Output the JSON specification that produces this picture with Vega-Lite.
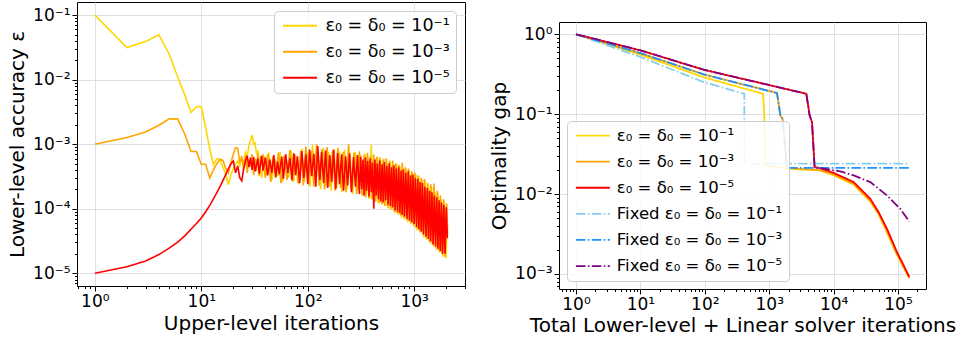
{
  "$schema": "https://vega.github.io/schema/vega-lite/v6.json",
  "background": "white",
  "padding": {"left": 7, "top": 1, "right": 0, "bottom": 0},
  "spacing": 23,
  "resolve": {"scale": {"color": "independent", "strokeDash": "independent"}, "legend": {"color": "independent", "strokeDash": "independent"}},
  "config": {
    "font": "DejaVu Sans",
    "view": {"stroke": "black", "strokeWidth": 1},
    "axis": {
      "labelFont": "DejaVu Sans", "titleFont": "DejaVu Sans",
      "labelColor": "black", "titleColor": "black", "tickColor": "black",
      "domain": false, "gridColor": "#dcdcdc", "gridWidth": 0.9,
      "labelFontSize": 17, "titleFontSize": 20, "titleFontWeight": "normal",
      "tickSize": 5, "labelFlush": false, "labelOverlap": false, "labelPadding": 2
    },
    "legend": {"labelLimit": 0}
  },
  "datasets": {
    "left": [
      {"s":"ε₀ = δ₀ = 10⁻¹","x":1,"y":0.1},{"s":"ε₀ = δ₀ = 10⁻¹","x":2,"y":0.0315},{"s":"ε₀ = δ₀ = 10⁻¹","x":3,"y":0.039},{"s":"ε₀ = δ₀ = 10⁻¹","x":4,"y":0.0495},{"s":"ε₀ = δ₀ = 10⁻¹","x":5,"y":0.0248},{"s":"ε₀ = δ₀ = 10⁻¹","x":6,"y":0.011},{"s":"ε₀ = δ₀ = 10⁻¹","x":7,"y":0.0058},{"s":"ε₀ = δ₀ = 10⁻¹","x":8,"y":0.0031},{"s":"ε₀ = δ₀ = 10⁻¹","x":9,"y":0.0038},{"s":"ε₀ = δ₀ = 10⁻¹","x":10,"y":0.0038},{"s":"ε₀ = δ₀ = 10⁻¹","x":11,"y":0.0018},{"s":"ε₀ = δ₀ = 10⁻¹","x":12,"y":0.00085},{"s":"ε₀ = δ₀ = 10⁻¹","x":13,"y":0.00048},{"s":"ε₀ = δ₀ = 10⁻¹","x":14,"y":0.00059},{"s":"ε₀ = δ₀ = 10⁻¹","x":15,"y":0.00059},{"s":"ε₀ = δ₀ = 10⁻¹","x":16,"y":0.00044},{"s":"ε₀ = δ₀ = 10⁻¹","x":17,"y":0.00034},{"s":"ε₀ = δ₀ = 10⁻¹","x":18,"y":0.000235},{"s":"ε₀ = δ₀ = 10⁻¹","x":19,"y":0.00034},{"s":"ε₀ = δ₀ = 10⁻¹","x":20,"y":0.00042},{"s":"ε₀ = δ₀ = 10⁻¹","x":21,"y":0.00049},{"s":"ε₀ = δ₀ = 10⁻¹","x":22,"y":0.00055},{"s":"ε₀ = δ₀ = 10⁻¹","x":23,"y":0.00046},{"s":"ε₀ = δ₀ = 10⁻¹","x":24,"y":0.00062},{"s":"ε₀ = δ₀ = 10⁻¹","x":25,"y":0.0005},{"s":"ε₀ = δ₀ = 10⁻¹","x":26,"y":0.00075},{"s":"ε₀ = δ₀ = 10⁻¹","x":27,"y":0.00065},{"s":"ε₀ = δ₀ = 10⁻¹","x":28,"y":0.00095},{"s":"ε₀ = δ₀ = 10⁻¹","x":29,"y":0.00115},{"s":"ε₀ = δ₀ = 10⁻¹","x":30,"y":0.00138},{"s":"ε₀ = δ₀ = 10⁻¹","x":31,"y":0.001},{"s":"ε₀ = δ₀ = 10⁻¹","x":32,"y":0.00105},{"s":"ε₀ = δ₀ = 10⁻¹","x":33,"y":0.0007},{"s":"ε₀ = δ₀ = 10⁻¹","x":34,"y":0.0008},{"s":"ε₀ = δ₀ = 10⁻¹","x":35,"y":0.00055},
      {"s":"ε₀ = δ₀ = 10⁻¹","x":37,"y":0.0003},{"s":"ε₀ = δ₀ = 10⁻¹","x":39,"y":0.00066},{"s":"ε₀ = δ₀ = 10⁻¹","x":41,"y":0.00033},{"s":"ε₀ = δ₀ = 10⁻¹","x":43,"y":0.00074},{"s":"ε₀ = δ₀ = 10⁻¹","x":46,"y":0.00028},{"s":"ε₀ = δ₀ = 10⁻¹","x":49,"y":0.0006},{"s":"ε₀ = δ₀ = 10⁻¹","x":52,"y":0.00032},{"s":"ε₀ = δ₀ = 10⁻¹","x":55,"y":0.00076},{"s":"ε₀ = δ₀ = 10⁻¹","x":58,"y":0.00026},{"s":"ε₀ = δ₀ = 10⁻¹","x":62,"y":0.00068},{"s":"ε₀ = δ₀ = 10⁻¹","x":66,"y":0.0003},{"s":"ε₀ = δ₀ = 10⁻¹","x":70,"y":0.00079},{"s":"ε₀ = δ₀ = 10⁻¹","x":74,"y":0.00027},{"s":"ε₀ = δ₀ = 10⁻¹","x":78,"y":0.00063},{"s":"ε₀ = δ₀ = 10⁻¹","x":83,"y":0.00024},{"s":"ε₀ = δ₀ = 10⁻¹","x":88,"y":0.00086},{"s":"ε₀ = δ₀ = 10⁻¹","x":93,"y":0.00026},{"s":"ε₀ = δ₀ = 10⁻¹","x":99,"y":0.00074},{"s":"ε₀ = δ₀ = 10⁻¹","x":105,"y":0.00022},{"s":"ε₀ = δ₀ = 10⁻¹","x":111,"y":0.00098},{"s":"ε₀ = δ₀ = 10⁻¹","x":118,"y":0.00024},{"s":"ε₀ = δ₀ = 10⁻¹","x":125,"y":0.0008},{"s":"ε₀ = δ₀ = 10⁻¹","x":132,"y":0.0002},{"s":"ε₀ = δ₀ = 10⁻¹","x":140,"y":0.00088},{"s":"ε₀ = δ₀ = 10⁻¹","x":148,"y":0.00023},{"s":"ε₀ = δ₀ = 10⁻¹","x":157,"y":0.00076},{"s":"ε₀ = δ₀ = 10⁻¹","x":166,"y":0.00019},{"s":"ε₀ = δ₀ = 10⁻¹","x":176,"y":0.00084},{"s":"ε₀ = δ₀ = 10⁻¹","x":187,"y":0.00021},{"s":"ε₀ = δ₀ = 10⁻¹","x":198,"y":0.00078},{"s":"ε₀ = δ₀ = 10⁻¹","x":210,"y":0.00018},{"s":"ε₀ = δ₀ = 10⁻¹","x":222,"y":0.00082},{"s":"ε₀ = δ₀ = 10⁻¹","x":235,"y":0.0002},{"s":"ε₀ = δ₀ = 10⁻¹","x":249,"y":0.00074},{"s":"ε₀ = δ₀ = 10⁻¹","x":264,"y":0.00017},{"s":"ε₀ = δ₀ = 10⁻¹","x":280,"y":0.00076},{"s":"ε₀ = δ₀ = 10⁻¹","x":297,"y":0.00019},{"s":"ε₀ = δ₀ = 10⁻¹","x":315,"y":0.00068},{"s":"ε₀ = δ₀ = 10⁻¹","x":333,"y":0.000155},{"s":"ε₀ = δ₀ = 10⁻¹","x":345,"y":0.00072},{"s":"ε₀ = δ₀ = 10⁻¹","x":357,"y":0.00017},{"s":"ε₀ = δ₀ = 10⁻¹","x":369,"y":0.00064},{"s":"ε₀ = δ₀ = 10⁻¹","x":382,"y":0.00014},{"s":"ε₀ = δ₀ = 10⁻¹","x":395,"y":0.00098},{"s":"ε₀ = δ₀ = 10⁻¹","x":409,"y":0.00015},{"s":"ε₀ = δ₀ = 10⁻¹","x":423,"y":0.0006},{"s":"ε₀ = δ₀ = 10⁻¹","x":438,"y":0.00013},{"s":"ε₀ = δ₀ = 10⁻¹","x":453,"y":0.00064},{"s":"ε₀ = δ₀ = 10⁻¹","x":469,"y":0.00012},{"s":"ε₀ = δ₀ = 10⁻¹","x":485,"y":0.00056},{"s":"ε₀ = δ₀ = 10⁻¹","x":502,"y":0.000115},{"s":"ε₀ = δ₀ = 10⁻¹","x":520,"y":0.0006},{"s":"ε₀ = δ₀ = 10⁻¹","x":538,"y":0.00011},{"s":"ε₀ = δ₀ = 10⁻¹","x":557,"y":0.00052},{"s":"ε₀ = δ₀ = 10⁻¹","x":576,"y":0.0001},{"s":"ε₀ = δ₀ = 10⁻¹","x":596,"y":0.00056},{"s":"ε₀ = δ₀ = 10⁻¹","x":617,"y":0.000095},{"s":"ε₀ = δ₀ = 10⁻¹","x":639,"y":0.00048},{"s":"ε₀ = δ₀ = 10⁻¹","x":661,"y":0.000085},{"s":"ε₀ = δ₀ = 10⁻¹","x":684,"y":0.0005},{"s":"ε₀ = δ₀ = 10⁻¹","x":708,"y":0.00008},{"s":"ε₀ = δ₀ = 10⁻¹","x":733,"y":0.00046},{"s":"ε₀ = δ₀ = 10⁻¹","x":759,"y":0.000072},{"s":"ε₀ = δ₀ = 10⁻¹","x":785,"y":0.00044},{"s":"ε₀ = δ₀ = 10⁻¹","x":813,"y":0.000068},{"s":"ε₀ = δ₀ = 10⁻¹","x":841,"y":0.00042},{"s":"ε₀ = δ₀ = 10⁻¹","x":870,"y":0.000062},{"s":"ε₀ = δ₀ = 10⁻¹","x":901,"y":0.0004},{"s":"ε₀ = δ₀ = 10⁻¹","x":932,"y":0.000058},{"s":"ε₀ = δ₀ = 10⁻¹","x":965,"y":0.00036},{"s":"ε₀ = δ₀ = 10⁻¹","x":999,"y":0.000052},{"s":"ε₀ = δ₀ = 10⁻¹","x":1034,"y":0.00034},{"s":"ε₀ = δ₀ = 10⁻¹","x":1070,"y":0.000046},{"s":"ε₀ = δ₀ = 10⁻¹","x":1107,"y":0.00032},{"s":"ε₀ = δ₀ = 10⁻¹","x":1146,"y":0.000042},{"s":"ε₀ = δ₀ = 10⁻¹","x":1186,"y":0.00028},{"s":"ε₀ = δ₀ = 10⁻¹","x":1228,"y":0.000036},{"s":"ε₀ = δ₀ = 10⁻¹","x":1271,"y":0.00027},{"s":"ε₀ = δ₀ = 10⁻¹","x":1315,"y":0.000033},{"s":"ε₀ = δ₀ = 10⁻¹","x":1361,"y":0.00023},{"s":"ε₀ = δ₀ = 10⁻¹","x":1409,"y":0.000029},{"s":"ε₀ = δ₀ = 10⁻¹","x":1458,"y":0.00022},{"s":"ε₀ = δ₀ = 10⁻¹","x":1509,"y":0.000026},{"s":"ε₀ = δ₀ = 10⁻¹","x":1562,"y":0.00018},{"s":"ε₀ = δ₀ = 10⁻¹","x":1617,"y":0.000023},{"s":"ε₀ = δ₀ = 10⁻¹","x":1673,"y":0.000178},{"s":"ε₀ = δ₀ = 10⁻¹","x":1732,"y":0.000021},{"s":"ε₀ = δ₀ = 10⁻¹","x":1792,"y":0.00014},{"s":"ε₀ = δ₀ = 10⁻¹","x":1855,"y":0.000018},{"s":"ε₀ = δ₀ = 10⁻¹","x":1920,"y":0.00013},{"s":"ε₀ = δ₀ = 10⁻¹","x":1987,"y":0.000017},{"s":"ε₀ = δ₀ = 10⁻¹","x":2050,"y":0.00006},
      {"s":"ε₀ = δ₀ = 10⁻³","x":1,"y":0.001},{"s":"ε₀ = δ₀ = 10⁻³","x":2,"y":0.00127},{"s":"ε₀ = δ₀ = 10⁻³","x":3,"y":0.00155},{"s":"ε₀ = δ₀ = 10⁻³","x":4,"y":0.00197},{"s":"ε₀ = δ₀ = 10⁻³","x":5,"y":0.00247},{"s":"ε₀ = δ₀ = 10⁻³","x":6,"y":0.00247},{"s":"ε₀ = δ₀ = 10⁻³","x":7,"y":0.00143},{"s":"ε₀ = δ₀ = 10⁻³","x":8,"y":0.00077},{"s":"ε₀ = δ₀ = 10⁻³","x":9,"y":0.00077},{"s":"ε₀ = δ₀ = 10⁻³","x":10,"y":0.00049},{"s":"ε₀ = δ₀ = 10⁻³","x":11,"y":0.00049},{"s":"ε₀ = δ₀ = 10⁻³","x":12,"y":0.0003},{"s":"ε₀ = δ₀ = 10⁻³","x":13,"y":0.0004},{"s":"ε₀ = δ₀ = 10⁻³","x":14,"y":0.0005},{"s":"ε₀ = δ₀ = 10⁻³","x":15,"y":0.00058},{"s":"ε₀ = δ₀ = 10⁻³","x":16,"y":0.00056},{"s":"ε₀ = δ₀ = 10⁻³","x":17,"y":0.00042},{"s":"ε₀ = δ₀ = 10⁻³","x":18,"y":0.00036},{"s":"ε₀ = δ₀ = 10⁻³","x":19,"y":0.00052},{"s":"ε₀ = δ₀ = 10⁻³","x":20,"y":0.0007},{"s":"ε₀ = δ₀ = 10⁻³","x":21,"y":0.00088},{"s":"ε₀ = δ₀ = 10⁻³","x":22,"y":0.00086},{"s":"ε₀ = δ₀ = 10⁻³","x":23,"y":0.00052},{"s":"ε₀ = δ₀ = 10⁻³","x":24,"y":0.00065},{"s":"ε₀ = δ₀ = 10⁻³","x":25,"y":0.0004},{"s":"ε₀ = δ₀ = 10⁻³","x":26,"y":0.00068},{"s":"ε₀ = δ₀ = 10⁻³","x":27,"y":0.00036},{"s":"ε₀ = δ₀ = 10⁻³","x":28,"y":0.00058},{"s":"ε₀ = δ₀ = 10⁻³","x":29,"y":0.00045},{"s":"ε₀ = δ₀ = 10⁻³","x":30,"y":0.0007},{"s":"ε₀ = δ₀ = 10⁻³","x":31,"y":0.00033},{"s":"ε₀ = δ₀ = 10⁻³","x":32,"y":0.0006},{"s":"ε₀ = δ₀ = 10⁻³","x":33,"y":0.00038},{"s":"ε₀ = δ₀ = 10⁻³","x":34,"y":0.00072},{"s":"ε₀ = δ₀ = 10⁻³","x":35,"y":0.00032},{"s":"ε₀ = δ₀ = 10⁻³","x":36,"y":0.00063},
      {"s":"ε₀ = δ₀ = 10⁻³","x":38,"y":0.00068},{"s":"ε₀ = δ₀ = 10⁻³","x":40,"y":0.0003},{"s":"ε₀ = δ₀ = 10⁻³","x":42,"y":0.0007},{"s":"ε₀ = δ₀ = 10⁻³","x":45,"y":0.00026},{"s":"ε₀ = δ₀ = 10⁻³","x":47,"y":0.00064},{"s":"ε₀ = δ₀ = 10⁻³","x":50,"y":0.0003},{"s":"ε₀ = δ₀ = 10⁻³","x":53,"y":0.00074},{"s":"ε₀ = δ₀ = 10⁻³","x":56,"y":0.00025},{"s":"ε₀ = δ₀ = 10⁻³","x":60,"y":0.00066},{"s":"ε₀ = δ₀ = 10⁻³","x":64,"y":0.00028},{"s":"ε₀ = δ₀ = 10⁻³","x":68,"y":0.00082},{"s":"ε₀ = δ₀ = 10⁻³","x":72,"y":0.00026},{"s":"ε₀ = δ₀ = 10⁻³","x":76,"y":0.0007},{"s":"ε₀ = δ₀ = 10⁻³","x":81,"y":0.00025},{"s":"ε₀ = δ₀ = 10⁻³","x":86,"y":0.0008},{"s":"ε₀ = δ₀ = 10⁻³","x":91,"y":0.00023},{"s":"ε₀ = δ₀ = 10⁻³","x":96,"y":0.00092},{"s":"ε₀ = δ₀ = 10⁻³","x":102,"y":0.00024},{"s":"ε₀ = δ₀ = 10⁻³","x":108,"y":0.00078},{"s":"ε₀ = δ₀ = 10⁻³","x":114,"y":0.00022},{"s":"ε₀ = δ₀ = 10⁻³","x":121,"y":0.001},{"s":"ε₀ = δ₀ = 10⁻³","x":128,"y":0.00023},{"s":"ε₀ = δ₀ = 10⁻³","x":136,"y":0.00084},{"s":"ε₀ = δ₀ = 10⁻³","x":144,"y":0.0002},{"s":"ε₀ = δ₀ = 10⁻³","x":152,"y":0.0009},{"s":"ε₀ = δ₀ = 10⁻³","x":161,"y":0.00022},{"s":"ε₀ = δ₀ = 10⁻³","x":171,"y":0.0008},{"s":"ε₀ = δ₀ = 10⁻³","x":181,"y":0.00019},{"s":"ε₀ = δ₀ = 10⁻³","x":192,"y":0.00088},{"s":"ε₀ = δ₀ = 10⁻³","x":204,"y":0.00021},{"s":"ε₀ = δ₀ = 10⁻³","x":216,"y":0.00076},{"s":"ε₀ = δ₀ = 10⁻³","x":228,"y":0.00018},{"s":"ε₀ = δ₀ = 10⁻³","x":242,"y":0.001},{"s":"ε₀ = δ₀ = 10⁻³","x":256,"y":0.00019},{"s":"ε₀ = δ₀ = 10⁻³","x":272,"y":0.00074},{"s":"ε₀ = δ₀ = 10⁻³","x":288,"y":0.00017},{"s":"ε₀ = δ₀ = 10⁻³","x":306,"y":0.00078},{"s":"ε₀ = δ₀ = 10⁻³","x":324,"y":0.00016},{"s":"ε₀ = δ₀ = 10⁻³","x":339,"y":0.00068},{"s":"ε₀ = δ₀ = 10⁻³","x":351,"y":0.00015},{"s":"ε₀ = δ₀ = 10⁻³","x":363,"y":0.00074},{"s":"ε₀ = δ₀ = 10⁻³","x":375,"y":0.000145},{"s":"ε₀ = δ₀ = 10⁻³","x":388,"y":0.00066},{"s":"ε₀ = δ₀ = 10⁻³","x":402,"y":0.00014},{"s":"ε₀ = δ₀ = 10⁻³","x":416,"y":0.0007},{"s":"ε₀ = δ₀ = 10⁻³","x":430,"y":0.00013},{"s":"ε₀ = δ₀ = 10⁻³","x":445,"y":0.00064},{"s":"ε₀ = δ₀ = 10⁻³","x":461,"y":0.000125},{"s":"ε₀ = δ₀ = 10⁻³","x":477,"y":0.00062},{"s":"ε₀ = δ₀ = 10⁻³","x":493,"y":0.00012},{"s":"ε₀ = δ₀ = 10⁻³","x":511,"y":0.00058},{"s":"ε₀ = δ₀ = 10⁻³","x":529,"y":0.00011},{"s":"ε₀ = δ₀ = 10⁻³","x":547,"y":0.0006},{"s":"ε₀ = δ₀ = 10⁻³","x":566,"y":0.000105},{"s":"ε₀ = δ₀ = 10⁻³","x":586,"y":0.00054},{"s":"ε₀ = δ₀ = 10⁻³","x":606,"y":0.0001},{"s":"ε₀ = δ₀ = 10⁻³","x":628,"y":0.00056},{"s":"ε₀ = δ₀ = 10⁻³","x":650,"y":0.00009},{"s":"ε₀ = δ₀ = 10⁻³","x":672,"y":0.0005},{"s":"ε₀ = δ₀ = 10⁻³","x":696,"y":0.000085},{"s":"ε₀ = δ₀ = 10⁻³","x":720,"y":0.00048},{"s":"ε₀ = δ₀ = 10⁻³","x":746,"y":0.000078},{"s":"ε₀ = δ₀ = 10⁻³","x":772,"y":0.00052},{"s":"ε₀ = δ₀ = 10⁻³","x":799,"y":0.000072},{"s":"ε₀ = δ₀ = 10⁻³","x":827,"y":0.00044},{"s":"ε₀ = δ₀ = 10⁻³","x":855,"y":0.000066},{"s":"ε₀ = δ₀ = 10⁻³","x":885,"y":0.00042},{"s":"ε₀ = δ₀ = 10⁻³","x":916,"y":0.000062},{"s":"ε₀ = δ₀ = 10⁻³","x":948,"y":0.00038},{"s":"ε₀ = δ₀ = 10⁻³","x":982,"y":0.000056},{"s":"ε₀ = δ₀ = 10⁻³","x":1016,"y":0.00036},{"s":"ε₀ = δ₀ = 10⁻³","x":1052,"y":0.00005},{"s":"ε₀ = δ₀ = 10⁻³","x":1088,"y":0.00033},{"s":"ε₀ = δ₀ = 10⁻³","x":1126,"y":0.000045},{"s":"ε₀ = δ₀ = 10⁻³","x":1166,"y":0.0003},{"s":"ε₀ = δ₀ = 10⁻³","x":1207,"y":0.00004},{"s":"ε₀ = δ₀ = 10⁻³","x":1249,"y":0.00029},{"s":"ε₀ = δ₀ = 10⁻³","x":1293,"y":0.000035},{"s":"ε₀ = δ₀ = 10⁻³","x":1338,"y":0.00025},{"s":"ε₀ = δ₀ = 10⁻³","x":1385,"y":0.000031},{"s":"ε₀ = δ₀ = 10⁻³","x":1433,"y":0.00024},{"s":"ε₀ = δ₀ = 10⁻³","x":1483,"y":0.000028},{"s":"ε₀ = δ₀ = 10⁻³","x":1535,"y":0.000246},{"s":"ε₀ = δ₀ = 10⁻³","x":1589,"y":0.000025},{"s":"ε₀ = δ₀ = 10⁻³","x":1645,"y":0.00019},{"s":"ε₀ = δ₀ = 10⁻³","x":1702,"y":0.000023},{"s":"ε₀ = δ₀ = 10⁻³","x":1762,"y":0.00016},{"s":"ε₀ = δ₀ = 10⁻³","x":1823,"y":0.00002},{"s":"ε₀ = δ₀ = 10⁻³","x":1887,"y":0.00014},{"s":"ε₀ = δ₀ = 10⁻³","x":1953,"y":0.000018},{"s":"ε₀ = δ₀ = 10⁻³","x":2020,"y":0.00012},{"s":"ε₀ = δ₀ = 10⁻³","x":2060,"y":0.00004},
      {"s":"ε₀ = δ₀ = 10⁻⁵","x":1,"y":0.00001},{"s":"ε₀ = δ₀ = 10⁻⁵","x":2,"y":0.0000126},{"s":"ε₀ = δ₀ = 10⁻⁵","x":3,"y":0.0000155},{"s":"ε₀ = δ₀ = 10⁻⁵","x":4,"y":0.0000195},{"s":"ε₀ = δ₀ = 10⁻⁵","x":5,"y":0.0000245},{"s":"ε₀ = δ₀ = 10⁻⁵","x":6,"y":0.0000305},{"s":"ε₀ = δ₀ = 10⁻⁵","x":7,"y":0.000038},{"s":"ε₀ = δ₀ = 10⁻⁵","x":8,"y":0.000048},{"s":"ε₀ = δ₀ = 10⁻⁵","x":9,"y":0.000059},{"s":"ε₀ = δ₀ = 10⁻⁵","x":10,"y":0.000072},{"s":"ε₀ = δ₀ = 10⁻⁵","x":11,"y":0.00009},{"s":"ε₀ = δ₀ = 10⁻⁵","x":12,"y":0.000113},{"s":"ε₀ = δ₀ = 10⁻⁵","x":13,"y":0.000142},{"s":"ε₀ = δ₀ = 10⁻⁵","x":14,"y":0.000178},{"s":"ε₀ = δ₀ = 10⁻⁵","x":15,"y":0.00022},{"s":"ε₀ = δ₀ = 10⁻⁵","x":16,"y":0.000275},{"s":"ε₀ = δ₀ = 10⁻⁵","x":17,"y":0.00034},{"s":"ε₀ = δ₀ = 10⁻⁵","x":18,"y":0.00042},{"s":"ε₀ = δ₀ = 10⁻⁵","x":19,"y":0.0005},
      {"s":"ε₀ = δ₀ = 10⁻⁵","x":20,"y":0.00055},{"s":"ε₀ = δ₀ = 10⁻⁵","x":21,"y":0.00036},{"s":"ε₀ = δ₀ = 10⁻⁵","x":22,"y":0.00046},{"s":"ε₀ = δ₀ = 10⁻⁵","x":23,"y":0.0003},{"s":"ε₀ = δ₀ = 10⁻⁵","x":24,"y":0.00027},{"s":"ε₀ = δ₀ = 10⁻⁵","x":25,"y":0.00042},{"s":"ε₀ = δ₀ = 10⁻⁵","x":26,"y":0.00055},{"s":"ε₀ = δ₀ = 10⁻⁵","x":27,"y":0.00066},{"s":"ε₀ = δ₀ = 10⁻⁵","x":28,"y":0.00044},{"s":"ε₀ = δ₀ = 10⁻⁵","x":29,"y":0.00062},{"s":"ε₀ = δ₀ = 10⁻⁵","x":30,"y":0.0004},{"s":"ε₀ = δ₀ = 10⁻⁵","x":31,"y":0.00064},{"s":"ε₀ = δ₀ = 10⁻⁵","x":32,"y":0.00038},{"s":"ε₀ = δ₀ = 10⁻⁵","x":34,"y":0.0006},{"s":"ε₀ = δ₀ = 10⁻⁵","x":35,"y":0.00035},{"s":"ε₀ = δ₀ = 10⁻⁵","x":37,"y":0.00066},{"s":"ε₀ = δ₀ = 10⁻⁵","x":38,"y":0.00039},{"s":"ε₀ = δ₀ = 10⁻⁵","x":40,"y":0.00062},{"s":"ε₀ = δ₀ = 10⁻⁵","x":42,"y":0.00033},{"s":"ε₀ = δ₀ = 10⁻⁵","x":44,"y":0.00058},{"s":"ε₀ = δ₀ = 10⁻⁵","x":46,"y":0.00036},{"s":"ε₀ = δ₀ = 10⁻⁵","x":48,"y":0.00068},{"s":"ε₀ = δ₀ = 10⁻⁵","x":50,"y":0.00031},{"s":"ε₀ = δ₀ = 10⁻⁵","x":52,"y":0.00054},{"s":"ε₀ = δ₀ = 10⁻⁵","x":54,"y":0.00034},{"s":"ε₀ = δ₀ = 10⁻⁵","x":57,"y":0.00064},{"s":"ε₀ = δ₀ = 10⁻⁵","x":59,"y":0.00029},{"s":"ε₀ = δ₀ = 10⁻⁵","x":62,"y":0.0007},{"s":"ε₀ = δ₀ = 10⁻⁵","x":65,"y":0.00036},{"s":"ε₀ = δ₀ = 10⁻⁵","x":68,"y":0.00061},{"s":"ε₀ = δ₀ = 10⁻⁵","x":71,"y":0.00028},{"s":"ε₀ = δ₀ = 10⁻⁵","x":74,"y":0.00072},{"s":"ε₀ = δ₀ = 10⁻⁵","x":77,"y":0.00033},{"s":"ε₀ = δ₀ = 10⁻⁵","x":80,"y":0.00065},{"s":"ε₀ = δ₀ = 10⁻⁵","x":84,"y":0.00025},{"s":"ε₀ = δ₀ = 10⁻⁵","x":88,"y":0.00078},{"s":"ε₀ = δ₀ = 10⁻⁵","x":92,"y":0.0003},{"s":"ε₀ = δ₀ = 10⁻⁵","x":96,"y":0.00069},{"s":"ε₀ = δ₀ = 10⁻⁵","x":100,"y":0.00024},{"s":"ε₀ = δ₀ = 10⁻⁵","x":104,"y":0.00083},{"s":"ε₀ = δ₀ = 10⁻⁵","x":109,"y":0.00032},{"s":"ε₀ = δ₀ = 10⁻⁵","x":114,"y":0.00071},{"s":"ε₀ = δ₀ = 10⁻⁵","x":119,"y":0.00022},{"s":"ε₀ = δ₀ = 10⁻⁵","x":124,"y":0.00094},{"s":"ε₀ = δ₀ = 10⁻⁵","x":130,"y":0.00028},{"s":"ε₀ = δ₀ = 10⁻⁵","x":135,"y":0.00076},{"s":"ε₀ = δ₀ = 10⁻⁵","x":141,"y":0.00025},{"s":"ε₀ = δ₀ = 10⁻⁵","x":147,"y":0.0008},{"s":"ε₀ = δ₀ = 10⁻⁵","x":154,"y":0.00021},{"s":"ε₀ = δ₀ = 10⁻⁵","x":161,"y":0.00068},{"s":"ε₀ = δ₀ = 10⁻⁵","x":168,"y":0.00026},{"s":"ε₀ = δ₀ = 10⁻⁵","x":175,"y":0.00082},{"s":"ε₀ = δ₀ = 10⁻⁵","x":183,"y":0.0002},{"s":"ε₀ = δ₀ = 10⁻⁵","x":191,"y":0.00073},{"s":"ε₀ = δ₀ = 10⁻⁵","x":199,"y":0.00024},{"s":"ε₀ = δ₀ = 10⁻⁵","x":208,"y":0.0007},{"s":"ε₀ = δ₀ = 10⁻⁵","x":217,"y":0.00019},{"s":"ε₀ = δ₀ = 10⁻⁵","x":227,"y":0.00065},{"s":"ε₀ = δ₀ = 10⁻⁵","x":237,"y":0.00023},{"s":"ε₀ = δ₀ = 10⁻⁵","x":247,"y":0.00072},{"s":"ε₀ = δ₀ = 10⁻⁵","x":258,"y":0.00018},{"s":"ε₀ = δ₀ = 10⁻⁵","x":269,"y":0.00063},{"s":"ε₀ = δ₀ = 10⁻⁵","x":281,"y":0.00022},{"s":"ε₀ = δ₀ = 10⁻⁵","x":293,"y":0.00068},{"s":"ε₀ = δ₀ = 10⁻⁵","x":306,"y":0.00017},
      {"s":"ε₀ = δ₀ = 10⁻⁵","x":314,"y":0.00064},{"s":"ε₀ = δ₀ = 10⁻⁵","x":322,"y":0.0002},{"s":"ε₀ = δ₀ = 10⁻⁵","x":330,"y":0.00058},{"s":"ε₀ = δ₀ = 10⁻⁵","x":339,"y":0.00016},{"s":"ε₀ = δ₀ = 10⁻⁵","x":348,"y":0.00062},{"s":"ε₀ = δ₀ = 10⁻⁵","x":357,"y":0.00019},{"s":"ε₀ = δ₀ = 10⁻⁵","x":366,"y":0.00055},{"s":"ε₀ = δ₀ = 10⁻⁵","x":376,"y":0.000155},{"s":"ε₀ = δ₀ = 10⁻⁵","x":386,"y":0.0006},{"s":"ε₀ = δ₀ = 10⁻⁵","x":396,"y":0.00018},{"s":"ε₀ = δ₀ = 10⁻⁵","x":406,"y":0.00052},{"s":"ε₀ = δ₀ = 10⁻⁵","x":417,"y":0.0001},{"s":"ε₀ = δ₀ = 10⁻⁵","x":428,"y":0.00058},{"s":"ε₀ = δ₀ = 10⁻⁵","x":439,"y":0.00016},{"s":"ε₀ = δ₀ = 10⁻⁵","x":450,"y":0.0005},{"s":"ε₀ = δ₀ = 10⁻⁵","x":462,"y":0.00014},{"s":"ε₀ = δ₀ = 10⁻⁵","x":474,"y":0.00056},{"s":"ε₀ = δ₀ = 10⁻⁵","x":486,"y":0.00013},{"s":"ε₀ = δ₀ = 10⁻⁵","x":499,"y":0.00049},{"s":"ε₀ = δ₀ = 10⁻⁵","x":512,"y":0.000125},{"s":"ε₀ = δ₀ = 10⁻⁵","x":525,"y":0.00053},{"s":"ε₀ = δ₀ = 10⁻⁵","x":539,"y":0.000135},{"s":"ε₀ = δ₀ = 10⁻⁵","x":553,"y":0.00046},{"s":"ε₀ = δ₀ = 10⁻⁵","x":567,"y":0.000115},{"s":"ε₀ = δ₀ = 10⁻⁵","x":582,"y":0.0005},{"s":"ε₀ = δ₀ = 10⁻⁵","x":597,"y":0.00011},{"s":"ε₀ = δ₀ = 10⁻⁵","x":613,"y":0.00044},{"s":"ε₀ = δ₀ = 10⁻⁵","x":629,"y":0.000105},{"s":"ε₀ = δ₀ = 10⁻⁵","x":645,"y":0.00047},{"s":"ε₀ = δ₀ = 10⁻⁵","x":662,"y":0.000095},{"s":"ε₀ = δ₀ = 10⁻⁵","x":679,"y":0.00042},{"s":"ε₀ = δ₀ = 10⁻⁵","x":697,"y":0.00009},{"s":"ε₀ = δ₀ = 10⁻⁵","x":715,"y":0.00044},{"s":"ε₀ = δ₀ = 10⁻⁵","x":734,"y":0.000085},{"s":"ε₀ = δ₀ = 10⁻⁵","x":753,"y":0.00039},{"s":"ε₀ = δ₀ = 10⁻⁵","x":772,"y":0.00008},{"s":"ε₀ = δ₀ = 10⁻⁵","x":792,"y":0.00041},{"s":"ε₀ = δ₀ = 10⁻⁵","x":813,"y":0.000076},{"s":"ε₀ = δ₀ = 10⁻⁵","x":834,"y":0.00036},{"s":"ε₀ = δ₀ = 10⁻⁵","x":856,"y":0.00007},{"s":"ε₀ = δ₀ = 10⁻⁵","x":878,"y":0.00038},{"s":"ε₀ = δ₀ = 10⁻⁵","x":901,"y":0.000066},{"s":"ε₀ = δ₀ = 10⁻⁵","x":925,"y":0.00033},{"s":"ε₀ = δ₀ = 10⁻⁵","x":949,"y":0.000062},{"s":"ε₀ = δ₀ = 10⁻⁵","x":973,"y":0.00034},{"s":"ε₀ = δ₀ = 10⁻⁵","x":999,"y":0.000058},{"s":"ε₀ = δ₀ = 10⁻⁵","x":1025,"y":0.0003},{"s":"ε₀ = δ₀ = 10⁻⁵","x":1051,"y":0.000052},{"s":"ε₀ = δ₀ = 10⁻⁵","x":1079,"y":0.00029},{"s":"ε₀ = δ₀ = 10⁻⁵","x":1107,"y":0.000048},{"s":"ε₀ = δ₀ = 10⁻⁵","x":1135,"y":0.00026},{"s":"ε₀ = δ₀ = 10⁻⁵","x":1165,"y":0.000044},{"s":"ε₀ = δ₀ = 10⁻⁵","x":1195,"y":0.00025},{"s":"ε₀ = δ₀ = 10⁻⁵","x":1226,"y":0.00004},{"s":"ε₀ = δ₀ = 10⁻⁵","x":1258,"y":0.00022},{"s":"ε₀ = δ₀ = 10⁻⁵","x":1291,"y":0.000037},{"s":"ε₀ = δ₀ = 10⁻⁵","x":1325,"y":0.00021},{"s":"ε₀ = δ₀ = 10⁻⁵","x":1359,"y":0.000034},{"s":"ε₀ = δ₀ = 10⁻⁵","x":1395,"y":0.00019},{"s":"ε₀ = δ₀ = 10⁻⁵","x":1431,"y":0.000031},{"s":"ε₀ = δ₀ = 10⁻⁵","x":1468,"y":0.00018},{"s":"ε₀ = δ₀ = 10⁻⁵","x":1506,"y":0.000028},{"s":"ε₀ = δ₀ = 10⁻⁵","x":1546,"y":0.00016},{"s":"ε₀ = δ₀ = 10⁻⁵","x":1586,"y":0.000026},{"s":"ε₀ = δ₀ = 10⁻⁵","x":1627,"y":0.00015},{"s":"ε₀ = δ₀ = 10⁻⁵","x":1670,"y":0.000024},{"s":"ε₀ = δ₀ = 10⁻⁵","x":1713,"y":0.000135},{"s":"ε₀ = δ₀ = 10⁻⁵","x":1758,"y":0.000022},{"s":"ε₀ = δ₀ = 10⁻⁵","x":1804,"y":0.000125},{"s":"ε₀ = δ₀ = 10⁻⁵","x":1850,"y":0.00002},{"s":"ε₀ = δ₀ = 10⁻⁵","x":1899,"y":0.000115},{"s":"ε₀ = δ₀ = 10⁻⁵","x":1948,"y":0.00002},{"s":"ε₀ = δ₀ = 10⁻⁵","x":1999,"y":0.000105},{"s":"ε₀ = δ₀ = 10⁻⁵","x":2050,"y":0.000035}
    ],
    "right": [
      {"s":"ε₀ = δ₀ = 10⁻¹","x":1,"y":1},{"s":"ε₀ = δ₀ = 10⁻¹","x":10,"y":0.555},{"s":"ε₀ = δ₀ = 10⁻¹","x":96,"y":0.29},{"s":"ε₀ = δ₀ = 10⁻¹","x":801,"y":0.18},{"s":"ε₀ = δ₀ = 10⁻¹","x":839,"y":0.095},{"s":"ε₀ = δ₀ = 10⁻¹","x":871,"y":0.0228},{"s":"ε₀ = δ₀ = 10⁻¹","x":2000,"y":0.0207},{"s":"ε₀ = δ₀ = 10⁻¹","x":6100,"y":0.0198},{"s":"ε₀ = δ₀ = 10⁻¹","x":10000,"y":0.0172},{"s":"ε₀ = δ₀ = 10⁻¹","x":20460,"y":0.0131},{"s":"ε₀ = δ₀ = 10⁻¹","x":37150,"y":0.008},{"s":"ε₀ = δ₀ = 10⁻¹","x":50100,"y":0.0055},{"s":"ε₀ = δ₀ = 10⁻¹","x":67450,"y":0.0033},{"s":"ε₀ = δ₀ = 10⁻¹","x":96400,"y":0.00172},{"s":"ε₀ = δ₀ = 10⁻¹","x":120000,"y":0.00122},{"s":"ε₀ = δ₀ = 10⁻¹","x":149700,"y":0.00088},
      {"s":"ε₀ = δ₀ = 10⁻³","x":1,"y":1},{"s":"ε₀ = δ₀ = 10⁻³","x":10,"y":0.58},{"s":"ε₀ = δ₀ = 10⁻³","x":96,"y":0.315},{"s":"ε₀ = δ₀ = 10⁻³","x":1320,"y":0.184},{"s":"ε₀ = δ₀ = 10⁻³","x":1490,"y":0.0966},{"s":"ε₀ = δ₀ = 10⁻³","x":1615,"y":0.0875},{"s":"ε₀ = δ₀ = 10⁻³","x":1890,"y":0.0213},{"s":"ε₀ = δ₀ = 10⁻³","x":3000,"y":0.0206},{"s":"ε₀ = δ₀ = 10⁻³","x":6100,"y":0.0199},{"s":"ε₀ = δ₀ = 10⁻³","x":10000,"y":0.0176},{"s":"ε₀ = δ₀ = 10⁻³","x":20460,"y":0.0134},{"s":"ε₀ = δ₀ = 10⁻³","x":37150,"y":0.0082},{"s":"ε₀ = δ₀ = 10⁻³","x":50100,"y":0.0057},{"s":"ε₀ = δ₀ = 10⁻³","x":67450,"y":0.0034},{"s":"ε₀ = δ₀ = 10⁻³","x":96400,"y":0.00178},{"s":"ε₀ = δ₀ = 10⁻³","x":120000,"y":0.00126},{"s":"ε₀ = δ₀ = 10⁻³","x":149700,"y":0.0009},
      {"s":"ε₀ = δ₀ = 10⁻⁵","x":1,"y":1},{"s":"ε₀ = δ₀ = 10⁻⁵","x":10,"y":0.63},{"s":"ε₀ = δ₀ = 10⁻⁵","x":96,"y":0.36},{"s":"ε₀ = δ₀ = 10⁻⁵","x":3770,"y":0.18},{"s":"ε₀ = δ₀ = 10⁻⁵","x":4240,"y":0.0966},{"s":"ε₀ = δ₀ = 10⁻⁵","x":4620,"y":0.079},{"s":"ε₀ = δ₀ = 10⁻⁵","x":5070,"y":0.0217},{"s":"ε₀ = δ₀ = 10⁻⁵","x":6100,"y":0.0211},{"s":"ε₀ = δ₀ = 10⁻⁵","x":10000,"y":0.0184},{"s":"ε₀ = δ₀ = 10⁻⁵","x":20460,"y":0.0141},{"s":"ε₀ = δ₀ = 10⁻⁵","x":37150,"y":0.0087},{"s":"ε₀ = δ₀ = 10⁻⁵","x":50100,"y":0.0059},{"s":"ε₀ = δ₀ = 10⁻⁵","x":67450,"y":0.00366},{"s":"ε₀ = δ₀ = 10⁻⁵","x":96400,"y":0.00187},{"s":"ε₀ = δ₀ = 10⁻⁵","x":120000,"y":0.00132},{"s":"ε₀ = δ₀ = 10⁻⁵","x":149700,"y":0.00091},
      {"s":"Fixed ε₀ = δ₀ = 10⁻¹","x":1,"y":1},{"s":"Fixed ε₀ = δ₀ = 10⁻¹","x":10,"y":0.52},{"s":"Fixed ε₀ = δ₀ = 10⁻¹","x":96,"y":0.252},{"s":"Fixed ε₀ = δ₀ = 10⁻¹","x":410,"y":0.18},{"s":"Fixed ε₀ = δ₀ = 10⁻¹","x":413,"y":0.024},{"s":"Fixed ε₀ = δ₀ = 10⁻¹","x":149700,"y":0.024},
      {"s":"Fixed ε₀ = δ₀ = 10⁻³","x":1,"y":1},{"s":"Fixed ε₀ = δ₀ = 10⁻³","x":10,"y":0.58},{"s":"Fixed ε₀ = δ₀ = 10⁻³","x":96,"y":0.315},{"s":"Fixed ε₀ = δ₀ = 10⁻³","x":1320,"y":0.184},{"s":"Fixed ε₀ = δ₀ = 10⁻³","x":1490,"y":0.0966},{"s":"Fixed ε₀ = δ₀ = 10⁻³","x":1615,"y":0.0875},{"s":"Fixed ε₀ = δ₀ = 10⁻³","x":1890,"y":0.0213},{"s":"Fixed ε₀ = δ₀ = 10⁻³","x":149700,"y":0.0213},
      {"s":"Fixed ε₀ = δ₀ = 10⁻⁵","x":1,"y":1},{"s":"Fixed ε₀ = δ₀ = 10⁻⁵","x":10,"y":0.63},{"s":"Fixed ε₀ = δ₀ = 10⁻⁵","x":96,"y":0.36},{"s":"Fixed ε₀ = δ₀ = 10⁻⁵","x":3770,"y":0.18},{"s":"Fixed ε₀ = δ₀ = 10⁻⁵","x":4240,"y":0.0966},{"s":"Fixed ε₀ = δ₀ = 10⁻⁵","x":4620,"y":0.079},{"s":"Fixed ε₀ = δ₀ = 10⁻⁵","x":5070,"y":0.0217},{"s":"Fixed ε₀ = δ₀ = 10⁻⁵","x":6100,"y":0.0211},{"s":"Fixed ε₀ = δ₀ = 10⁻⁵","x":12700,"y":0.0192},{"s":"Fixed ε₀ = δ₀ = 10⁻⁵","x":20460,"y":0.0171},{"s":"Fixed ε₀ = δ₀ = 10⁻⁵","x":37150,"y":0.0141},{"s":"Fixed ε₀ = δ₀ = 10⁻⁵","x":67450,"y":0.0096},{"s":"Fixed ε₀ = δ₀ = 10⁻⁵","x":108600,"y":0.0065},{"s":"Fixed ε₀ = δ₀ = 10⁻⁵","x":149700,"y":0.00453}
    ]
  },
  "hconcat": [
    {
      "width": 388, "height": 284,
      "data": {"name": "left"},
      "layer": [
        {
          "mark": {"type": "line", "strokeWidth": 1.6, "clip": true},
          "encoding": {
            "x": {"field": "x", "type": "quantitative",
              "scale": {"type": "log", "domain": [0.68, 3000], "nice": false, "zero": false},
              "axis": {"values": [1, 10, 100, 1000], "title": "Upper-level iterations", "grid": true, "titlePadding": 4,
                "labelExpr": "'10' + replace(replace(replace(replace(replace(replace(replace(replace(format(round(log(datum.value)/LN10),'d'),'−','⁻'),'-','⁻'),'0','⁰'),'1','¹'),'2','²'),'3','³'),'4','⁴'),'5','⁵')"}},
            "y": {"field": "y", "type": "quantitative",
              "scale": {"type": "log", "domain": [0.00000635, 0.16], "nice": false, "zero": false},
              "axis": {"values": [0.00001, 0.0001, 0.001, 0.01, 0.1], "title": "Lower-level accuracy ε", "grid": true, "titlePadding": 5,
                "labelExpr": "'10' + replace(replace(replace(replace(replace(replace(replace(replace(format(round(log(datum.value)/LN10),'d'),'−','⁻'),'-','⁻'),'0','⁰'),'1','¹'),'2','²'),'3','³'),'4','⁴'),'5','⁵')"}},
            "color": {"field": "s", "type": "nominal",
              "scale": {"domain": ["ε₀ = δ₀ = 10⁻¹", "ε₀ = δ₀ = 10⁻³", "ε₀ = δ₀ = 10⁻⁵"], "range": ["#FFD700", "#FFA500", "#FF0000"]},
              "legend": {"title": null, "orient": "top-right", "offset": 9, "labelFontSize": 17.5, "labelFont": "DejaVu Sans", "labelColor": "black",
                "symbolType": "M-1,0H5", "symbolSize": 128, "symbolStrokeWidth": 1.8, "labelOffset": 28, "rowPadding": 7, "padding": 6,
                "fillColor": "rgba(255,255,255,0.85)", "strokeColor": "#cccccc", "cornerRadius": 4}}
          }
        },
        {
          "mark": {"type": "point", "opacity": 0, "clip": true},
          "encoding": {
            "x": {"field": "x", "type": "quantitative",
              "scale": {"type": "log", "domain": [0.68, 3000], "nice": false, "zero": false},
              "axis": {"orient": "bottom", "values": [0.7,0.8,0.9,2,3,4,5,6,7,8,9,20,30,40,50,60,70,80,90,200,300,400,500,600,700,800,900,2000,3000], "labels": false, "grid": false, "tickSize": 2.5, "title": null}},
            "y": {"field": "y", "type": "quantitative",
              "scale": {"type": "log", "domain": [0.00000635, 0.16], "nice": false, "zero": false},
              "axis": {"orient": "left", "values": [0.000007,0.000008,0.000009,0.00002,0.00003,0.00004,0.00005,0.00006,0.00007,0.00008,0.00009,0.0002,0.0003,0.0004,0.0005,0.0006,0.0007,0.0008,0.0009,0.002,0.003,0.004,0.005,0.006,0.007,0.008,0.009,0.02,0.03,0.04,0.05,0.06,0.07,0.08,0.09], "labels": false, "grid": false, "tickSize": 2.5, "title": null}}
          }
        }
      ],
      "resolve": {"axis": {"x": "independent", "y": "independent"}}
    },
    {
      "spacing": 0,
      "resolve": {"scale": {"color": "independent", "strokeDash": "independent"}, "legend": {"color": "independent", "strokeDash": "independent"}},
      "vconcat": [
        {
          "width": 367, "height": 19,
          "view": {"stroke": null},
          "data": {"values": [{"k": 0}]},
          "mark": {"type": "point", "size": 0, "opacity": 0}
        },
        {
          "width": 367, "height": 267,
          "data": {"name": "right"},
          "layer": [
            {
              "mark": {"type": "line", "strokeWidth": 1.8, "clip": true},
              "encoding": {
                "x": {"field": "x", "type": "quantitative",
                  "scale": {"type": "log", "domain": [0.544, 272000], "nice": false, "zero": false},
                  "axis": {"values": [1, 10, 100, 1000, 10000, 100000], "title": "Total Lower-level + Linear solver iterations", "grid": true, "titlePadding": 3,
                    "labelExpr": "'10' + replace(replace(replace(replace(replace(replace(replace(replace(format(round(log(datum.value)/LN10),'d'),'−','⁻'),'-','⁻'),'0','⁰'),'1','¹'),'2','²'),'3','³'),'4','⁴'),'5','⁵')"}},
                "y": {"field": "y", "type": "quantitative",
                  "scale": {"type": "log", "domain": [0.000646, 1.426], "nice": false, "zero": false},
                  "axis": {"values": [0.001, 0.01, 0.1, 1], "title": "Optimality gap", "grid": true, "titlePadding": 5,
                    "labelExpr": "'10' + replace(replace(replace(replace(replace(replace(replace(replace(format(round(log(datum.value)/LN10),'d'),'−','⁻'),'-','⁻'),'0','⁰'),'1','¹'),'2','²'),'3','³'),'4','⁴'),'5','⁵')"}},
                "color": {"field": "s", "type": "nominal",
                  "scale": {"domain": ["ε₀ = δ₀ = 10⁻¹", "ε₀ = δ₀ = 10⁻³", "ε₀ = δ₀ = 10⁻⁵", "Fixed ε₀ = δ₀ = 10⁻¹", "Fixed ε₀ = δ₀ = 10⁻³", "Fixed ε₀ = δ₀ = 10⁻⁵"],
                    "range": ["#FFD700", "#FFA500", "#FF0000", "#87CEEB", "#1E90FF", "#800080"]},
                  "legend": {"title": null, "orient": "bottom-left", "offset": 8, "labelFontSize": 16.5, "labelFont": "DejaVu Sans", "labelColor": "black",
                    "symbolType": "M-1,0H5", "symbolSize": 128, "symbolStrokeWidth": 1.8, "labelOffset": 27, "rowPadding": 9.1, "padding": 6.3,
                    "fillColor": "rgba(255,255,255,0.85)", "strokeColor": "#cccccc", "cornerRadius": 4}},
                "strokeDash": {"field": "s", "type": "nominal",
                  "scale": {"domain": ["ε₀ = δ₀ = 10⁻¹", "ε₀ = δ₀ = 10⁻³", "ε₀ = δ₀ = 10⁻⁵", "Fixed ε₀ = δ₀ = 10⁻¹", "Fixed ε₀ = δ₀ = 10⁻³", "Fixed ε₀ = δ₀ = 10⁻⁵"],
                    "range": [[1, 0], [1, 0], [1, 0], [9.6, 2.4, 1.5, 2.4], [9.6, 2.4, 1.5, 2.4], [9.6, 2.4, 1.5, 2.4]]},
                  "legend": {"title": null, "orient": "bottom-left", "offset": 8, "labelFontSize": 16.5, "labelFont": "DejaVu Sans", "labelColor": "black",
                    "symbolType": "M-1,0H5", "symbolSize": 128, "symbolStrokeWidth": 1.8, "labelOffset": 27, "rowPadding": 9.1, "padding": 6.3,
                    "fillColor": "rgba(255,255,255,0.85)", "strokeColor": "#cccccc", "cornerRadius": 4}}
              }
            },
            {
              "mark": {"type": "point", "opacity": 0, "clip": true},
              "encoding": {
                "x": {"field": "x", "type": "quantitative",
                  "scale": {"type": "log", "domain": [0.544, 272000], "nice": false, "zero": false},
                  "axis": {"orient": "bottom", "values": [0.6,0.7,0.8,0.9,2,3,4,5,6,7,8,9,20,30,40,50,60,70,80,90,200,300,400,500,600,700,800,900,2000,3000,4000,5000,6000,7000,8000,9000,20000,30000,40000,50000,60000,70000,80000,90000,200000], "labels": false, "grid": false, "tickSize": 2.5, "title": null}},
                "y": {"field": "y", "type": "quantitative",
                  "scale": {"type": "log", "domain": [0.000646, 1.426], "nice": false, "zero": false},
                  "axis": {"orient": "left", "values": [0.0007,0.0008,0.0009,0.002,0.003,0.004,0.005,0.006,0.007,0.008,0.009,0.02,0.03,0.04,0.05,0.06,0.07,0.08,0.09,0.2,0.3,0.4,0.5,0.6,0.7,0.8,0.9], "labels": false, "grid": false, "tickSize": 2.5, "title": null}}
              }
            }
          ],
          "resolve": {"axis": {"x": "independent", "y": "independent"}}
        }
      ]
    }
  ]
}
